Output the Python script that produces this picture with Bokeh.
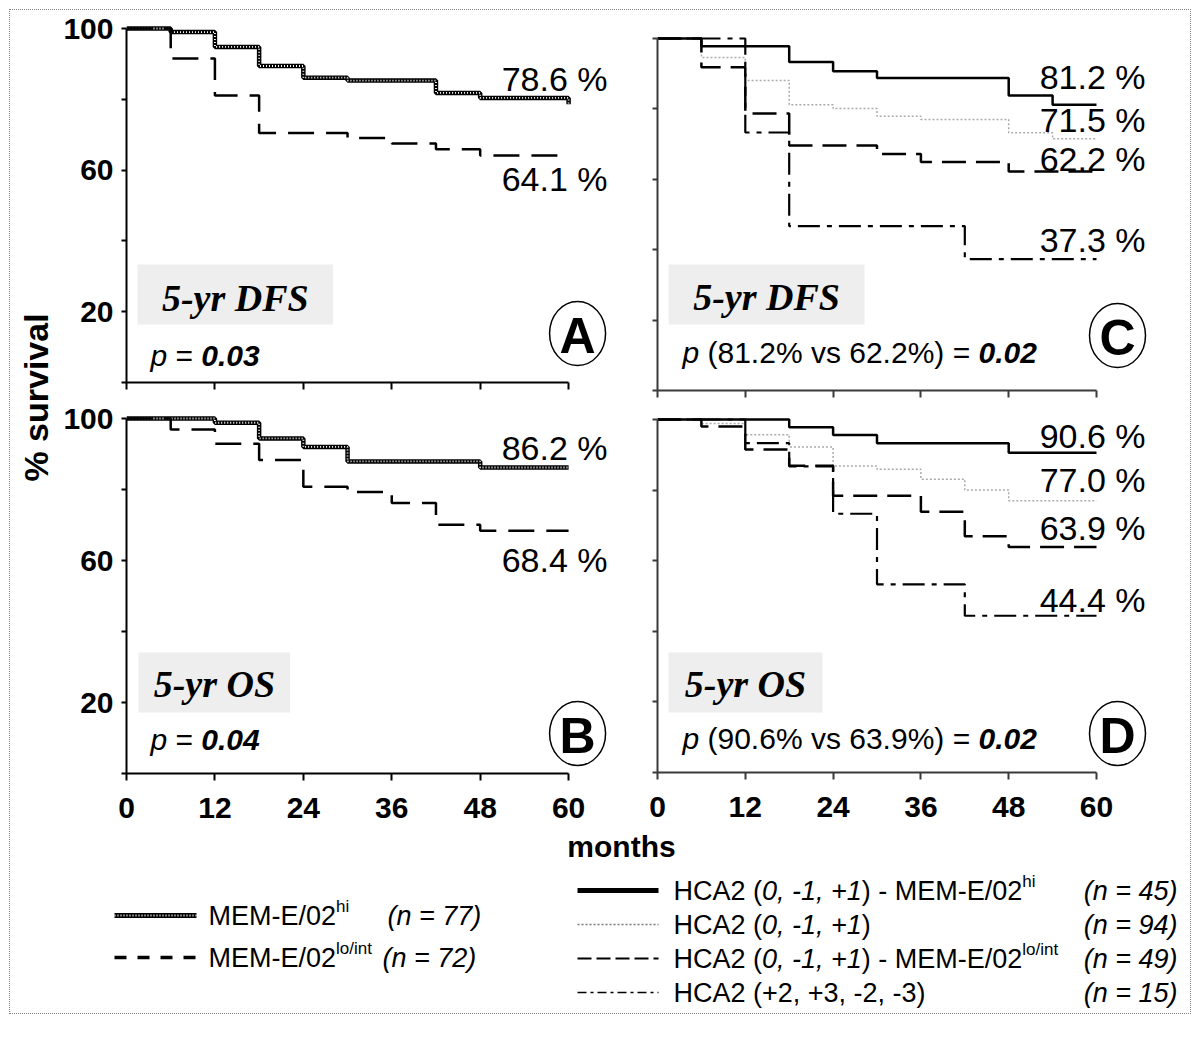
import math
from bokeh.plotting import figure
from bokeh.models import Range1d, Label, FixedTicker, BoxAnnotation
from bokeh.layouts import row, column
from bokeh.embed import file_html
from bokeh.resources import INLINE

SANS = "Liberation Sans"
SERIF = "Liberation Serif"
NB = "\u00a0"

# ---------------- data ----------------
MONTH_TICKS = [0, 12, 24, 36, 48, 60]
SURV_TICKS = [0, 20, 40, 60, 80, 100]
SURV_TICK_TEXT = ["", "20", "", "60", "", "100"]

# A: 5-yr DFS by MEM-E/02
a_hi_months = [0, 6, 12, 18, 24, 30, 42, 48, 60]
a_hi_surv = [100, 99.0, 94.8, 89.4, 86.1, 85.3, 81.8, 80.4, 78.6]
a_lo_months = [0, 6, 12, 18, 30, 36, 42, 48, 60]
a_lo_surv = [100, 91.5, 81.1, 70.5, 69.1, 67.5, 65.9, 64.1, 64.1]
a_end_labels = ["78.6 %", "64.1 %"]

# B: 5-yr OS by MEM-E/02
b_hi_months = [0, 12, 18, 24, 30, 48, 60]
b_hi_surv = [100, 98.8, 94.4, 92.0, 87.9, 86.2, 86.2]
b_lo_months = [0, 6, 12, 18, 24, 30, 36, 42, 48, 60]
b_lo_surv = [100, 96.9, 92.9, 88.3, 80.8, 79.3, 76.2, 70.1, 68.4, 68.4]
b_end_labels = ["86.2 %", "68.4 %"]

# C: 5-yr DFS by HCA2 / MEM-E/02
c_g1_months = [0, 6, 18, 24, 30, 48, 54, 60]
c_g1_surv = [100, 97.8, 93.3, 90.7, 88.8, 83.8, 81.2, 81.2]
c_g2_months = [0, 6, 12, 18, 24, 30, 36, 48, 54, 60]
c_g2_surv = [100, 94.6, 88.1, 81.2, 80.1, 77.9, 77.0, 73.2, 71.5, 71.5]
c_g3_months = [0, 6, 12, 18, 30, 36, 48, 60]
c_g3_surv = [100, 91.8, 78.7, 69.6, 67.2, 64.9, 62.2, 62.2]
c_g4_months = [0, 12, 18, 42, 60]
c_g4_surv = [100, 73.3, 46.7, 37.3, 37.3]
c_end_labels = ["81.2 %", "71.5 %", "62.2 %", "37.3 %"]

# D: 5-yr OS by HCA2 / MEM-E/02
d_g1_months = [0, 18, 24, 30, 48, 60]
d_g1_surv = [100, 97.8, 95.6, 93.3, 90.6, 90.6]
d_g2_months = [0, 6, 12, 18, 24, 30, 36, 42, 48, 60]
d_g2_surv = [100, 98.9, 95.7, 92.2, 86.8, 85.9, 83.1, 80.0, 77.0, 77.0]
d_g3_months = [0, 6, 12, 18, 24, 36, 42, 48, 60]
d_g3_surv = [100, 98.0, 91.5, 86.9, 78.4, 73.9, 66.9, 63.9, 63.9]
d_g4_months = [0, 12, 18, 24, 30, 42, 60]
d_g4_surv = [100, 93.3, 86.7, 73.3, 53.3, 44.4, 44.4]
d_end_labels = ["90.6 %", "77.0 %", "63.9 %", "44.4 %"]

left_legend_n = ["(n = 77)", "(n = 72)"]
right_legend_n = ["(n = 45)", "(n = 94)", "(n = 49)", "(n = 15)"]

# ---------------- helpers ----------------
AW = {' ': 278, NB: 278, '%': 889, '(': 333, ')': 333, '+': 584, ',': 278, '-': 333, '.': 278,
      '/': 278, '=': 584, 'A': 667, 'C': 722, 'E': 667, 'H': 722, 'M': 833, 'a': 556,
      'h': 556, 'i': 222, 'l': 222, 'n': 556, 'o': 556, 'p': 556, 's': 500, 't': 278, 'v': 500}


def tw(s, size):
    return sum(AW.get(c, 556) for c in s) * size / 1000.0


def lab(p, x, y, text, size, style="normal", align="left", font=SANS, baseline="middle", angle=0.0):
    p.add_layout(Label(x=x, y=y, text=text, text_font=font, text_font_style=style,
                       text_font_size=f"{size}px", text_align=align, text_baseline=baseline,
                       text_color="black", angle=angle))


def rich(p, x, y, pieces, cx=lambda v: v, cy=lambda v: v):
    for text, style, size, dy in pieces:
        lab(p, cx(x), cy(y + dy), text.replace(" ", NB), size, style)
        x += tw(text, size)


def make_panel(g):
    ppm = (g["x60"] - g["x0"]) / 60.0
    ppu = (g["y0"] - g["y100"]) / 100.0
    frame_top = g["y100"] - 4
    bl = g["x0"] - g["left"]
    bt = frame_top - g["top"]
    bb = g["top"] + g["h"] - g["y0"]
    fw = g["w"] - bl
    p = figure(width=g["w"], height=g["h"],
               x_range=Range1d(0, fw / ppm), y_range=Range1d(0, (g["y0"] - frame_top) / ppu),
               min_border_left=bl, min_border_right=0, min_border_top=bt, min_border_bottom=bb,
               output_backend="svg", toolbar_location=None, frame_align=False)
    p.outline_line_color = None
    p.grid.visible = False
    p.background_fill_color = None
    p.border_fill_color = None
    axc = g["axis_color"]
    for ax in (p.xaxis[0], p.yaxis[0]):
        ax.axis_line_width = 2
        ax.axis_line_color = axc
        ax.major_tick_line_width = 2
        ax.major_tick_line_color = axc
        ax.major_tick_in = 0
        ax.minor_tick_line_color = None
        ax.major_label_text_font = SANS
        ax.major_label_text_font_style = "bold"
        ax.major_label_text_font_size = "30px"
        ax.major_label_text_color = "black"
    p.xaxis.bounds = (0, 60)
    p.yaxis.bounds = (0, 100)
    p.xaxis.ticker = FixedTicker(ticks=MONTH_TICKS)
    p.yaxis.ticker = FixedTicker(ticks=SURV_TICKS)
    p.xaxis.major_tick_out = 7
    p.yaxis.major_tick_out = 5
    p.xaxis.major_label_standoff = 17
    p.yaxis.major_label_standoff = 8
    if g["ylabels"]:
        p.yaxis.major_label_overrides = {t: s for t, s in zip(SURV_TICKS, SURV_TICK_TEXT)}
    else:
        p.yaxis.major_label_overrides = {t: "" for t in SURV_TICKS}
    if not g["xlabels"]:
        p.xaxis.major_label_overrides = {t: "" for t in MONTH_TICKS}

    def X(px):
        return (px - g["x0"]) / ppm

    def Y(py):
        return (g["y0"] - py) / ppu
    return p, X, Y


def hatched(p, xs, ys):
    p.step(xs, ys, mode="after", line_color="black", line_width=4.5)
    p.step(xs, ys, mode="after", line_color="white", line_width=1.8, line_dash="1 2")


def dashed_lo(p, xs, ys):
    p.step(xs, ys, mode="after", line_color="black", line_width=2.5, line_dash="26 12")


def g1(p, xs, ys):
    p.step(xs, ys, mode="after", line_color="black", line_width=2.5)


def g2(p, xs, ys):
    p.step(xs, ys, mode="after", line_color="#ababab", line_width=1.5, line_dash="2 2")


def g3(p, xs, ys):
    p.step(xs, ys, mode="after", line_color="black", line_width=2.5, line_dash="24 10")


def g4(p, xs, ys):
    p.step(xs, ys, mode="after", line_color="black", line_width=2.2, line_dash="22 7 5 7")


def decorate(p, X, Y, ends, end_ys, end_right, box, title, title_c, ptext, circ, letter):
    for t, yy in zip(ends, end_ys):
        lab(p, X(end_right), Y(yy), t, 34, align="right")
    p.add_layout(BoxAnnotation(left=X(box[0]), right=X(box[1]), top=Y(box[2]), bottom=Y(box[3]),
                               fill_color="#eeeeee", fill_alpha=1.0, line_color=None))
    lab(p, X(title_c[0]), Y(title_c[1]), title, 38, style="bold italic", align="center", font=SERIF)
    rich(p, ptext[0], ptext[1], ptext[2], X, Y)
    p.ellipse(x=[X(circ[0])], y=[Y(circ[1])], width=56, height=64, width_units="screen",
              height_units="screen", fill_color="white", line_color="black", line_width=1.5)
    lab(p, X(circ[0]), Y(circ[1] + 2), letter, 50, style="bold", align="center")


# ---------------- panels (page pixel geometry, page origin at 0,0) ----------------
geo = {
    "A": dict(left=60, top=0, w=552, h=400, x0=125, x60=568, y0=382, y100=28,
              ylabels=True, xlabels=False, axis_color="black"),
    "C": dict(left=612, top=0, w=588, h=400, x0=657, x60=1096, y0=390, y100=38,
              ylabels=False, xlabels=False, axis_color="#3a3a3a"),
    "B": dict(left=60, top=400, w=552, h=430, x0=125, x60=568, y0=773, y100=418,
              ylabels=True, xlabels=True, axis_color="black"),
    "D": dict(left=612, top=400, w=588, h=430, x0=657, x60=1096, y0=772, y100=419,
              ylabels=False, xlabels=True, axis_color="#3a3a3a"),
}

pA, XA, YA = make_panel(geo["A"])
hatched(pA, a_hi_months, a_hi_surv)
dashed_lo(pA, a_lo_months, a_lo_surv)
decorate(pA, XA, YA, a_end_labels, [78, 178], 607, (136, 332, 264, 324), "5-yr DFS", (234, 297),
         (149, 355, [("p", "italic", 30, 0), (" = ", "normal", 30, 0), ("0.03", "bold italic", 30, 0)]),
         (577, 333), "A")

pB, XB, YB = make_panel(geo["B"])
hatched(pB, b_hi_months, b_hi_surv)
dashed_lo(pB, b_lo_months, b_lo_surv)
decorate(pB, XB, YB, b_end_labels, [447, 559], 607, (137, 289, 652, 712), "5-yr OS", (213, 683),
         (149, 739, [("p", "italic", 30, 0), (" = ", "normal", 30, 0), ("0.04", "bold italic", 30, 0)]),
         (577, 733), "B")

pC, XC, YC = make_panel(geo["C"])
g2(pC, c_g2_months, c_g2_surv)
g4(pC, c_g4_months, c_g4_surv)
g3(pC, c_g3_months, c_g3_surv)
g1(pC, c_g1_months, c_g1_surv)
decorate(pC, XC, YC, c_end_labels, [76, 119, 158, 239], 1145, (668, 864, 264, 324), "5-yr DFS", (766, 296),
         (682, 352, [("p", "italic", 30, 0), (" (81.2% vs 62.2%) = ", "normal", 30, 0),
                     ("0.02", "bold italic", 30, 0)]),
         (1117, 335), "C")

pD, XD, YD = make_panel(geo["D"])
g2(pD, d_g2_months, d_g2_surv)
g4(pD, d_g4_months, d_g4_surv)
g3(pD, d_g3_months, d_g3_surv)
g1(pD, d_g1_months, d_g1_surv)
decorate(pD, XD, YD, d_end_labels, [435, 479, 527, 599], 1145, (668, 822, 652, 712), "5-yr OS", (745, 683),
         (682, 738, [("p", "italic", 30, 0), (" (90.6% vs 63.9%) = ", "normal", 30, 0),
                     ("0.02", "bold italic", 30, 0)]),
         (1117, 733), "D")


def blank_fig(left, top, w, h):
    p = figure(width=w, height=h, x_range=Range1d(left, left + w), y_range=Range1d(top + h, top),
               min_border=0, min_border_left=0, min_border_right=0, min_border_top=0, min_border_bottom=0,
               output_backend="svg", toolbar_location=None, x_axis_type=None, y_axis_type=None,
               frame_align=False)
    p.outline_line_color = None
    p.background_fill_color = None
    p.border_fill_color = None
    return p


ylab = blank_fig(0, 0, 60, 830)
lab(ylab, 35, 397, "% survival", 34, style="bold", align="center", angle=math.pi / 2)

leg = blank_fig(0, 830, 1200, 193)
lab(leg, 621, 846, "months", 30, style="bold", align="center")

# left legend
leg.line([114, 196], [915, 915], line_color="black", line_width=5)
leg.line([114, 196], [915, 915], line_color="white", line_width=2, line_dash="1 2")
leg.line([114, 196], [957, 957], line_color="black", line_width=3.5, line_dash="12 11")
rich(leg, 208, 915, [("MEM-E/02", "normal", 27, 0), ("hi", "normal", 17, -9)])
rich(leg, 208, 957, [("MEM-E/02", "normal", 27, 0), ("lo/int", "normal", 17, -9)])
lab(leg, 387, 915, left_legend_n[0], 27, style="italic")
lab(leg, 382, 957, left_legend_n[1], 27, style="italic")

# right legend
ry = [890, 924, 958, 992]
leg.line([577, 658], [ry[0]] * 2, line_color="black", line_width=5)
leg.line([577, 658], [ry[1]] * 2, line_color="#777777", line_width=1.5, line_dash="2 2")
leg.line([577, 658], [ry[2]] * 2, line_color="black", line_width=2, line_dash="14 5")
leg.line([577, 658], [ry[3]] * 2, line_color="black", line_width=1.5, line_dash="9 4 3 4")
rich(leg, 673, ry[0], [("HCA2 (", "normal", 27, 0), ("0, -1, +1", "italic", 27, 0),
                       (") - MEM-E/02", "normal", 27, 0), ("hi", "normal", 17, -9)])
rich(leg, 673, ry[1], [("HCA2 (", "normal", 27, 0), ("0, -1, +1", "italic", 27, 0), (")", "normal", 27, 0)])
rich(leg, 673, ry[2], [("HCA2 (", "normal", 27, 0), ("0, -1, +1", "italic", 27, 0),
                       (") - MEM-E/02", "normal", 27, 0), ("lo/int", "normal", 17, -9)])
rich(leg, 673, ry[3], [("HCA2 (+2, +3, -2, -3)", "normal", 27, 0)])
for yy, t in zip(ry, right_legend_n):
    lab(leg, 1177, yy, t, 27, style="italic", align="right")

layout = column(row(ylab, column(row(pA, pC), row(pB, pD))), leg,
                styles={"outline": "1px dotted #808080", "outline-offset": "-10px"})

open("out.html", "w").write(file_html(layout, INLINE))
